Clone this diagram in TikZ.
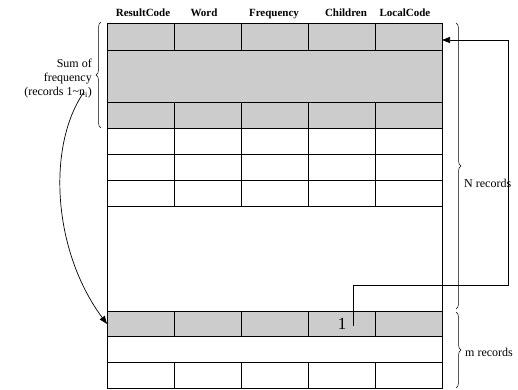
\documentclass[tikz,border=0pt]{standalone}
\usepackage{fontspec}
\setmainfont{Liberation Serif}
\usetikzlibrary{decorations.pathreplacing,arrows.meta}

\begin{document}
\begin{tikzpicture}[x=1pt,y=-1pt,
	cell/.style={draw,line width=0.8},
	graycell/.style={cell,fill=gray!40},
	hdr/.style={font=\bfseries\fontsize{11}{13}\selectfont,anchor=base},
	lbl/.style={font=\fontsize{12}{14}\selectfont},
	brc/.style={decorate,decoration={brace,amplitude=5pt},line width=0.5},
	link/.style={line width=0.7,-{Triangle[length=8pt,width=6pt]}}]
	\useasboundingbox (0,0) rectangle (518,389);
	%column titles
	\node[hdr] (h1) at (143,16) {ResultCode};
	\node[hdr] (h2) at (204,16) {Word};
	\node[hdr] (h3) at (274,16) {Frequency};
	\node[hdr] (h4) at (346,16) {Children};
	\node[hdr] (h5) at (405,16) {LocalCode};
	%gray records 1~n_i
	\foreach \y/\h in {23/27,102/26}
		\foreach \x in {107,174,241,308,375}
			\draw[graycell] (\x,\y) rectangle ++(67,\h);
	\draw[graycell] (107,50) rectangle (442,102);
	%plain records
	\foreach \y in {128,154,180}
		\foreach \x in {107,174,241,308,375}
			\draw[cell] (\x,\y) rectangle ++(67,26);
	\draw[cell] (107,206) rectangle (442,311);
	%m records
	\foreach \x in {107,174,241,308,375}
		\draw[graycell] (\x,311) rectangle ++(67,25);
	\draw[cell] (107,336) rectangle (442,362);
	\foreach \x in {107,174,241,308,375}
		\draw[cell] (\x,362) rectangle ++(67,26);
	\node[font=\fontsize{17}{18}\selectfont] (one) at (342,324) {1};
	%braces
	\draw[brc] (101,128) -- (101,22);
	\node[lbl,align=right,anchor=east,inner sep=1pt] (sum) at (93,79) {Sum of\\frequency\\(records 1\textasciitilde n\textsubscript{i})};
	\draw[brc] (456,23) -- (456,309);
	\node[lbl,anchor=west,inner sep=1pt] (nrec) at (463,183) {N records};
	\draw[brc] (456,312) -- (456,388);
	\node[lbl,anchor=west,inner sep=1pt] (mrec) at (464,352) {m records};
	%links
	\coordinate (src) at (84,92);
	\coordinate (dst) at (107,324);
	\draw[link] (src) .. controls (47,145) and (52,250) .. (dst);
	\coordinate (tail) at (353,326);
	\coordinate (turn) at (508,285);
	\coordinate (head) at (442,40);
	\draw[link] (tail) |- (turn) |- (head);
\end{tikzpicture}
\end{document}
